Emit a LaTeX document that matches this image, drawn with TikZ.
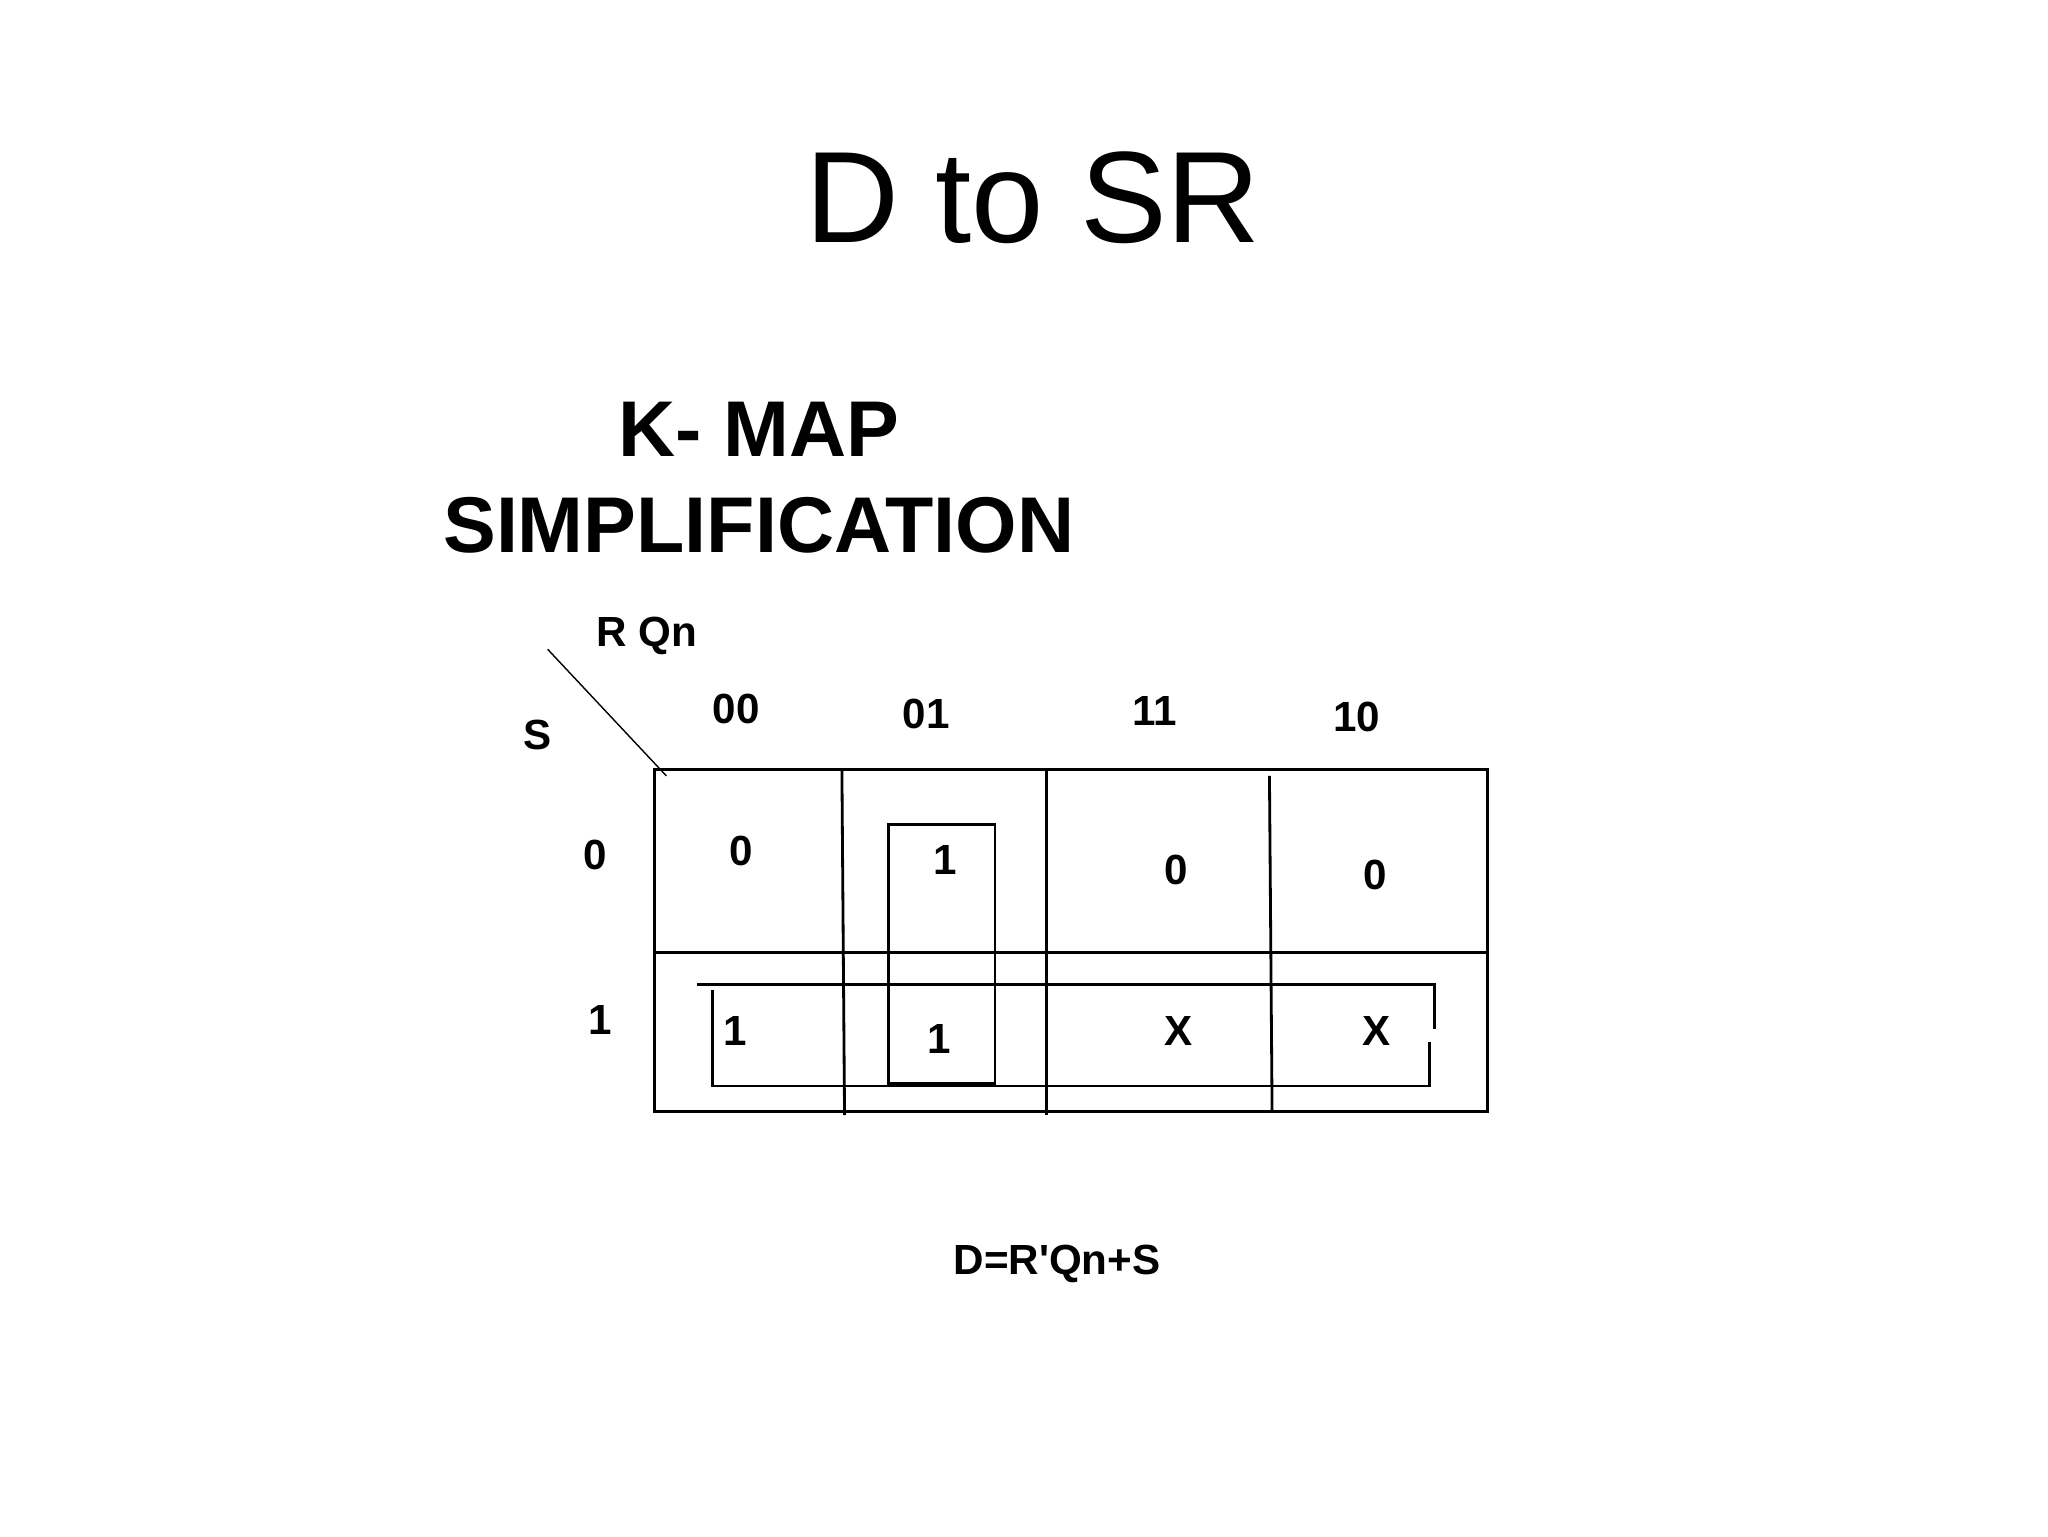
\documentclass[tikz,border=0pt]{standalone}
\usepackage{fontspec}
\setmainfont{Liberation Sans}
\newfontfamily\eqfont{Liberation Sans}
\begin{document}
\begin{tikzpicture}[x=0.0132cm,y=-0.0132cm,
  lbl/.style={font=\fontsize{12}{14}\selectfont\bfseries},
  ln/.style={line width=0.8pt}]
\useasboundingbox (0,0) rectangle (1552,1164);
\node (title) at (783,150) {\fontsize{37}{42}\selectfont D to SR};
\node (h1) at (575,325) {\fontsize{22.5}{26}\selectfont\bfseries K- MAP};
\node (h2) at (575,398) {\fontsize{22.5}{26}\selectfont\bfseries SIMPLIFICATION};
\draw[ln] (496,583) rectangle (1127,842);
\draw[ln] (638,583) -- (640,845);
\draw[ln] (793,583) -- (793,845);
\draw[ln] (962,588) -- (964,842);
\draw[ln] (496,722) -- (1127,722);
\draw[line width=0.4pt] (415,492) -- (505,588);
\node[lbl] (rq) at (490,482) {R Qn};
\node[lbl] (s) at (407,557) {S};
\node[lbl] (c1) at (558,537) {00};
\node[lbl] (c2) at (702,541) {01};
\node[lbl] (c3) at (875,539) {11};
\node[lbl] (c4) at (1028,543) {10};
\node[lbl] (r0) at (451,648) {0};
\node[lbl] (r1) at (455,773) {1};
\node[lbl] (a) at (562,645) {0};
\node[lbl] (b) at (716,652) {1};
\node[lbl] (c) at (891,659) {0};
\node[lbl] (d) at (1042,663) {0};
\node[lbl] (e) at (557,781) {1};
\node[lbl] (f) at (712,787) {1};
\node[lbl] (g) at (893,781) {X};
\node[lbl] (h) at (1043,781) {X};
\draw[ln] (673,625) rectangle (754,821);
\draw[ln] (528,746) -- (1087,746) -- (1087,780);
\draw[ln] (540,750) -- (540,823) -- (1083,823) -- (1083,790);
\node[lbl] (eq) at (801,958) {\eqfont\bfseries D=R'Qn+S};
\end{tikzpicture}
\end{document}
